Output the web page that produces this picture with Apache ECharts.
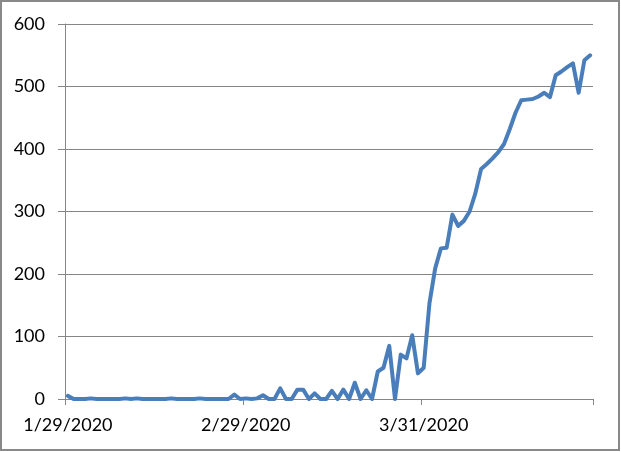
<!DOCTYPE html>
<html>
<head>
<meta charset="utf-8">
<script src="https://cdn.jsdelivr.net/npm/echarts@6/dist/echarts.min.js"></script>
<style>
html,body{margin:0;padding:0;background:#fff;}
#c{width:621px;height:452px;}
</style>
</head>
<body>
<div id="c"></div>
<script>
// Daily values, one per day starting 1/29/2020
const startDate = [2020, 1, 29];
const values = [
  5, 0, 0, 0, 1, 0, 0, 0, 0, 0,
  1, 0, 1, 0, 0, 0, 0, 0, 1, 0,
  0, 0, 0, 1, 0, 0, 0, 0, 0, 7,
  0, 1, 0, 1, 6, 0, 0, 17, 0, 0,
  15, 15, 0, 9, 0, 0, 13, 0, 15, 0,
  26, 0, 14, 0, 44, 50, 85, 0, 71, 65,
  102, 41, 50, 153, 209, 241, 242, 295, 277, 285,
  300, 329, 368, 376, 385, 395, 408, 432, 458, 478,
  479, 480, 484, 490, 483, 518, 524, 531, 537, 490,
  542, 550
];
const yTicks = [0, 100, 200, 300, 400, 500, 600];

// categories: consecutive dates as M/D/YYYY
const categories = [];
(function () {
  const d = new Date(Date.UTC(startDate[0], startDate[1] - 1, startDate[2]));
  for (let i = 0; i < values.length; i++) {
    categories.push((d.getUTCMonth() + 1) + '/' + d.getUTCDate() + '/' + d.getUTCFullYear());
    d.setUTCDate(d.getUTCDate() + 1);
  }
})();

const chart = echarts.init(document.getElementById('c'), null, {renderer: 'canvas'});
const font = 'Lato';
chart.setOption({
  animation: false,
  backgroundColor: '#fff',
  grid: {left: 65, right: 28, top: 24, bottom: 53},
  graphic: [{
    type: 'rect', shape: {x: 1, y: 1, width: 618, height: 449},
    style: {fill: 'none', stroke: '#898989', lineWidth: 2}, silent: true
  }],
  xAxis: {
    type: 'category',
    data: categories,
    boundaryGap: true,
    axisLine: {show: true, lineStyle: {color: '#868686', width: 1}},
    axisTick: {show: true, interval: 30, length: 6, alignWithLabel: false, lineStyle: {color: '#868686'}},
    axisLabel: {interval: 30, margin: 17, color: '#000', fontFamily: font, fontSize: 18},
    splitLine: {show: false}
  },
  yAxis: {
    type: 'value',
    min: yTicks[0], max: yTicks[yTicks.length - 1], interval: 100,
    axisLine: {show: true, lineStyle: {color: '#868686', width: 1}},
    axisTick: {show: true, length: 7, lineStyle: {color: '#868686'}},
    axisLabel: {margin: 20, color: '#000', fontFamily: font, fontSize: 18},
    splitLine: {show: true, lineStyle: {color: '#868686', width: 1}}
  },
  series: [{
    type: 'line',
    data: values,
    showSymbol: false,
    symbol: 'none',
    lineStyle: {color: '#4A7EBB', width: 4, join: 'round', cap: 'round'},
    itemStyle: {color: '#4A7EBB'}
  }]
});
</script>
</body>
</html>
